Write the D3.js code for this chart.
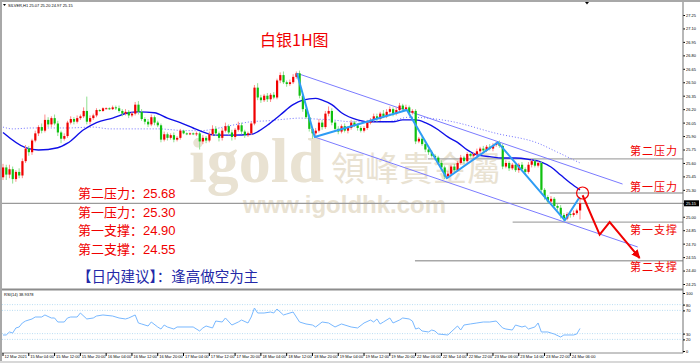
<!DOCTYPE html>
<html>
<head>
<meta charset="utf-8">
<script src="https://cdn.jsdelivr.net/npm/d3@7"></script>
<style>
  body { margin: 0; background: #fff; }
  svg { display: block; }
  .tiny { font-family: "Liberation Sans", Arial, sans-serif; font-size: 4px; fill: #000; }
</style>
</head>
<body>
<svg></svg>
<script>
// SILVER H1 candles, 12 Mar 2021 .. 24 Mar 2021 09:00 (open of bar 0, then closes)
const firstOpen = 25.44
const closes = [
  25.55, 25.47, 25.53, 25.42, 25.50, 25.46, 25.62, 25.76, 25.72, 25.85,
  25.93, 26.00, 25.96, 26.08, 26.03, 26.10, 26.04, 25.94, 25.87, 25.90,
  26.05, 26.09, 26.06, 26.10, 26.12, 26.18, 26.06, 26.10, 26.13, 26.19,
  26.18, 26.21, 26.21, 26.20, 26.22, 26.21, 26.18, 26.15, 26.17, 26.13,
  26.15, 26.25, 26.17, 26.09, 26.06, 26.03, 26.11, 26.05, 26.02, 25.86,
  25.92, 25.88, 25.91, 25.86, 25.88, 25.96, 25.93, 25.92, 25.93, 25.92,
  25.93, 25.84, 25.88, 25.85, 25.92, 25.98, 25.93, 25.88, 25.96, 26.01,
  25.94, 25.89, 25.97, 26.02, 25.95, 25.91, 25.93, 26.04, 26.44, 26.33,
  26.30, 26.35, 26.31, 26.36, 26.33, 26.52, 26.58, 26.50, 26.48, 26.50,
  26.56, 26.60, 26.35, 26.20, 26.11, 25.98, 25.93, 25.96, 26.05, 26.00,
  26.15, 26.18, 26.05, 25.98, 25.95, 26.01, 25.96, 25.99, 26.05, 26.02,
  25.99, 25.96, 25.99, 26.05, 26.08, 26.12, 26.09, 26.15, 26.12, 26.17,
  26.20, 26.15, 26.19, 26.24, 26.20, 26.22, 26.16, 26.18, 25.84, 25.87,
  25.81, 25.75, 25.72, 25.68, 25.66, 25.60, 25.55, 25.45, 25.48, 25.56,
  25.52, 25.60, 25.66, 25.62, 25.70, 25.68, 25.70, 25.73, 25.76, 25.74,
  25.78, 25.76, 25.80, 25.82, 25.79, 25.56, 25.60, 25.54, 25.58, 25.52,
  25.58, 25.53, 25.50, 25.58, 25.62, 25.57, 25.60, 25.30, 25.22, 25.17,
  25.20, 25.12, 25.10, 25.02, 24.98, 25.03, 25.02, 25.04, 25.07, 25.15
]
// wick lengths above / below the body, in cents
const upWick = [
  4,3,5,3,2,4,3,4,3,2, 3,2,4,6,3,2,4,3,2,3, 2,3,2,3,2,4,16,3,2,2, 1,1,1,1,2,2,3,2,3,2,
  2,3,4,3,2,3,3,2,2,2, 3,2,2,3,2,2,1,1,1,1, 2,2,3,2,3,4,3,2,3,4, 2,3,2,4,3,2,2,2,3,5,
  3,2,3,2,3,2,3,4,2,3, 3,2,3,2,2,3,2,3,4,3, 3,5,3,2,3,2,3,2,3,2, 2,2,2,3,2,3,3,2,4,3,
  3,2,3,3,2,3,2,2,2,2, 2,3,2,2,2,2,3,2,3,2, 3,2,3,2,2,2,2,3,2,3, 2,3,2,2,3,2,3,2,2,3,
  2,3,2,3,2,3,2,2,2,2, 3,2,2,3,2,2,2,3,2,5
]
const downWick = [
  3,6,4,5,3,3,3,2,4,3, 2,3,3,2,3,3,2,4,5,2, 2,2,3,2,2,2,3,3,2,2, 1,1,1,1,1,2,2,3,2,3,
  2,2,3,2,3,3,2,3,2,3, 2,3,2,3,2,2,1,1,1,1, 2,9,3,3,2,2,3,4,3,2, 3,4,3,2,3,3,2,2,2,3,
  3,2,3,3,2,2,3,2,3,2, 2,2,3,3,2,3,6,5,2,3, 2,3,3,2,3,2,2,3,2,2, 3,2,2,2,2,2,3,2,2,2,
  2,3,2,2,3,2,3,2,3,2, 2,3,3,2,3,2,3,3,2,2, 3,2,2,3,2,2,2,2,3,2, 2,2,3,2,2,3,2,3,2,2,
  3,2,3,2,3,2,2,3,3,2, 2,2,3,4,3,2,3,2,2,10
]

const timeLabels = [
  "12 Mar 2021", "15 Mar 04:00", "15 Mar 12:00", "15 Mar 20:00", "16 Mar 04:00", "16 Mar 12:00",
  "16 Mar 20:00", "17 Mar 04:00", "17 Mar 12:00", "17 Mar 20:00", "18 Mar 04:00", "18 Mar 12:00",
  "18 Mar 20:00", "19 Mar 04:00", "19 Mar 12:00", "19 Mar 20:00", "22 Mar 06:00", "22 Mar 14:00",
  "22 Mar 22:00", "23 Mar 06:00", "23 Mar 14:00", "23 Mar 22:00", "24 Mar 06:00"
]
const priceTicks = [27.25, 27.10, 26.95, 26.80, 26.65, 26.50, 26.35, 26.20, 26.05, 25.90, 25.75,
  25.60, 25.45, 25.30, 25.15, 25.00, 24.85, 24.70, 24.55, 24.40, 24.25]
const rsiTicks = [100, 80, 70, 30, 20, 0]
const rsiLevels = [80, 70, 30, 20]
const lastPrice = 25.15

// moving averages (bar index, price)
const maBars = [0,7,11,17,20,25,29,34,39,42,47,51,55,59,61,66,71,77,82,86,90,93,97,99,102,105,110,113,117,121,
  124,128,131,135,138,141,144,147,151,155,159,163,167,170,173,176,179]
const maValues = [25.94,25.77,25.745,25.77,25.82,25.97,26.05,26.10,26.16,26.17,26.16,26.10,26.05,25.99,25.96,
  25.91,25.91,25.92,26.02,26.135,26.25,26.30,26.32,26.30,26.25,26.16,26.08,26.06,26.06,26.06,26.08,26.08,
  26.05,25.97,25.89,25.83,25.745,25.69,25.67,25.655,25.655,25.64,25.61,25.555,25.466,25.377,25.30]
const slowBars = [0,3,9,20,28,33,48,57,61,71,77,82,88,92,97,102,108,119,126,138,153,166,172,179]
const slowValues = [26.00,25.98,25.99,25.99,26.00,25.98,25.98,25.96,25.96,26.02,26.06,26.07,26.09,26.10,
  26.09,26.08,26.06,26.06,26.11,26.07,25.93,25.82,25.72,25.60]

// RSI(14)
const rsiBars = [0,1,2,3,4,5,6,7,9,10,12,13,15,16,17,19,20,21,23,24,26,28,29,31,34,36,38,39,41,42,43,45,46,48,
  49,50,51,53,54,59,61,62,63,65,66,68,69,71,73,74,76,77,78,79,81,83,84,85,87,88,90,92,94,96,97,99,101,103,105,
  108,110,112,114,115,116,117,118,120,121,123,124,126,127,128,129,130,132,133,134,135,138,139,141,142,143,145,
  147,149,151,153,155,156,158,159,161,162,163,165,166,167,169,171,173,174,177,178,179]
const rsiValues = [27.6,27.6,32.8,31,39.7,41.4,48.3,51.7,55.2,58.6,58.6,62.1,56.9,56.9,50,50,56.9,58.6,58.6,65.5,
  55.2,56.9,60.3,62.1,60.3,56.9,55.2,56.9,62.1,48.3,46.6,43.1,50,41.4,37.9,44.8,41.4,37.9,41.4,41.4,34.5,39.7,
  43.1,39.7,51.7,50,56.9,44.8,50,53.4,48.3,58.6,74.1,65.5,65.5,67.2,65.5,72.4,62.1,63.8,67.2,50,46.6,44.8,41.4,
  50,48.3,41.4,46.6,41.4,39.7,48.3,53.4,50,55.2,46.6,50,56.9,48.3,53.4,56.9,55.2,51.7,37.9,39.7,34.5,32.8,36.2,
  34.5,29.3,27.6,32.8,43.1,36.2,44.8,46.6,48.3,50,50,51.7,39.7,37.9,36.2,44.8,41.4,43.1,37.9,41.4,48.3,32.8,
  32.8,29.3,24.1,27.6,27.6,29.3,38.9]

// analyst drawings (bar index, price)
const zigzagBars = [91.2, 96.7, 125.3, 137.7, 153.5, 174.3, 178.9]
const zigzagPrices = [26.60, 25.89, 26.19, 25.43, 25.83, 24.96, 25.22]
const channelBars = [[91.2, 192.2], [96.7, 196.9]]
const channelPrices = [[26.60, 25.365], [25.889, 24.663]]
const forecastBars = [179.8, 185.1, 188.2, 197.5]
const forecastPrices = [25.24, 24.80, 24.94, 24.54]
const circleBar = 179.8
const circlePrice = 25.265

const levelNames = ["第二压力", "第一压力", "第一支撑", "第二支撑"]
const levelValues = ["25.68", "25.30", "24.90", "24.55"]
const levelLinePrices = [25.645, 25.265, 24.94, 24.51]
const levelLineStart = [131.8, 169.6, 158.1, 127.8]

const svg = d3.select("svg").attr("width", 700).attr("height", 363)

const x = d3.scaleLinear().domain([0, 179]).range([3, 580])
const y = d3.scaleLinear().domain([24.25, 27.25]).range([284, 15])
const yr = d3.scaleLinear().domain([0, 100]).range([351, 293])

svg.append("rect").attr("width", 700).attr("height", 363).attr("fill", "#fff")

// frame
svg.append("rect").attr("x", 0).attr("y", 0).attr("width", 700).attr("height", 2).attr("fill", "#a8a8a8")
svg.append("rect").attr("x", 0).attr("y", 0).attr("width", 2).attr("height", 363).attr("fill", "#a8a8a8")
svg.append("rect").attr("x", 0).attr("y", 361).attr("width", 700).attr("height", 2).attr("fill", "#d8d8d8")

// watermark
const wm = svg.append("g").attr("fill", "#e9e2d2")
wm.append("text").attr("x", 189).attr("y", 182)
  .style("font-family", "'Liberation Serif', serif").style("font-weight", "bold")
  .style("font-size", "64px").text("igold")
wm.append("text").attr("x", 331).attr("y", 181)
  .style("font-family", "'Noto Sans CJK TC', sans-serif").style("font-size", "34px")
  .text("領峰貴金屬")
wm.append("text").attr("x", 243).attr("y", 213)
  .style("font-family", "'Liberation Sans', sans-serif").style("font-weight", "bold")
  .style("font-size", "24px").text("www.igoldhk.com")

// price panel
svg.append("clipPath").attr("id", "pc").append("rect")
  .attr("x", 2).attr("y", 3).attr("width", 681).attr("height", 285)
const pp = svg.append("g").attr("clip-path", "url(#pc)")

// horizontal levels
pp.append("line").attr("x1", 2).attr("x2", 683).attr("y1", y(lastPrice)).attr("y2", y(lastPrice))
  .attr("stroke", "#9a9a9a").attr("stroke-width", 1.2)
pp.selectAll("line.level").data(levelLinePrices).enter().append("line")
  .attr("class", "level")
  .attr("x1", (d, i) => x(levelLineStart[i])).attr("x2", 683)
  .attr("y1", d => y(d)).attr("y2", d => y(d))
  .attr("stroke", "#a8a8a8").attr("stroke-width", 1.4)

// moving averages
const slowLine = d3.line().x((d, i) => x(slowBars[i])).y(d => y(d)).curve(d3.curveMonotoneX)
pp.append("path").attr("d", slowLine(slowValues)).attr("fill", "none")
  .attr("stroke", "#7070ff").attr("stroke-width", 1).attr("stroke-dasharray", "1,2")
const maLine = d3.line().x((d, i) => x(maBars[i])).y(d => y(d)).curve(d3.curveMonotoneX)
pp.append("path").attr("d", maLine(maValues)).attr("fill", "none")
  .attr("stroke", "#1010e8").attr("stroke-width", 1.4)

// channel
pp.selectAll("line.chan").data(channelBars).enter().append("line")
  .attr("class", "chan")
  .attr("x1", d => x(d[0])).attr("x2", d => x(d[1]))
  .attr("y1", (d, i) => y(channelPrices[i][0])).attr("y2", (d, i) => y(channelPrices[i][1]))
  .attr("stroke", "#7b7bff").attr("stroke-width", 1)

// candles
const bars = closes.map((c, i) => {
  const o = i ? closes[i - 1] : firstOpen
  return { i, o, c, h: Math.max(o, c) + upWick[i] / 100, l: Math.min(o, c) - downWick[i] / 100 }
})
const candles = pp.selectAll("g.candle").data(bars).enter().append("g").attr("class", "candle")
candles.append("line")
  .attr("x1", d => x(d.i)).attr("x2", d => x(d.i))
  .attr("y1", d => y(d.h)).attr("y2", d => y(d.l))
  .attr("stroke", d => d.c >= d.o ? "#ff8a8a" : "#8fe08f").attr("stroke-width", 1)
candles.append("rect")
  .attr("x", d => x(d.i) - 1).attr("width", 2.2)
  .attr("y", d => y(Math.max(d.o, d.c)))
  .attr("height", d => Math.max(1, Math.abs(y(d.o) - y(d.c))))
  .attr("fill", d => d.c >= d.o ? "#f00000" : "#10c010")

// zigzag
const zz = d3.line().x((d, i) => x(zigzagBars[i])).y(d => y(d))
pp.append("path").attr("d", zz(zigzagPrices)).attr("fill", "none")
  .attr("stroke", "#2d9cf5").attr("stroke-width", 2).attr("stroke-linejoin", "round")

// forecast arrow
svg.append("defs").append("marker").attr("id", "ah")
  .attr("markerUnits", "userSpaceOnUse").attr("markerWidth", 10).attr("markerHeight", 10)
  .attr("refX", 8).attr("refY", 4).attr("orient", "auto")
  .append("path").attr("d", "M0,0 L9,4 L0,8 Z").attr("fill", "#f00000")
const fc = d3.line().x((d, i) => x(forecastBars[i])).y(d => y(d))
pp.append("path").attr("d", fc(forecastPrices)).attr("fill", "none")
  .attr("stroke", "#f00000").attr("stroke-width", 2).attr("marker-end", "url(#ah)")
pp.append("circle").attr("cx", x(circleBar)).attr("cy", y(circlePrice)).attr("r", 6)
  .attr("fill", "none").attr("stroke", "#f00000").attr("stroke-width", 1.2)

// texts on the chart
svg.append("text").attr("x", 260).attr("y", 46).attr("fill", "#f00000")
  .style("font-family", "'Noto Sans CJK SC', sans-serif").style("font-size", "16px")
  .text("白银1H图")

const leftBlock = svg.append("g").attr("fill", "#f00000")
  .style("font-family", "'Liberation Sans', 'Noto Sans CJK SC', sans-serif").style("font-size", "13px")
leftBlock.selectAll("text").data(levelNames).enter().append("text")
  .attr("x", 78).attr("y", (d, i) => 198 + i * 18.7)
  .text((d, i) => d + "：" + levelValues[i])

svg.append("text").attr("x", 77).attr("y", 282).attr("fill", "#2328a8")
  .style("font-family", "'Noto Sans CJK SC', sans-serif").style("font-size", "14.5px")
  .text("【日内建议】：逢高做空为主")

const rightLabelY = [155, 191, 234, 271]
svg.append("g").attr("fill", "#f00000")
  .style("font-family", "'Noto Sans CJK SC', sans-serif").style("font-size", "11px")
  .selectAll("text").data(levelNames).enter().append("text")
  .attr("x", 630).attr("y", (d, i) => rightLabelY[i]).attr("letter-spacing", 1)
  .text(d => d)

// header
svg.append("path").attr("d", "M3,4 L6,4 L4.5,6 Z").attr("fill", "#000")
svg.append("text").attr("class", "tiny").attr("x", 8).attr("y", 6.5)
  .text("SILVER,H1  25.07 25.20 24.97 25.15")
svg.append("path").attr("d", "M585,2 L589,2 L587,4.5 Z").attr("fill", "#000")

// right price axis
const pAxis = d3.axisRight(y).tickValues(priceTicks).tickSize(2).tickFormat(d3.format(".2f"))
const pa = svg.append("g").attr("transform", "translate(683,0)").call(pAxis)
pa.select(".domain").remove()
pa.selectAll("text").attr("class", "tiny").attr("x", 3).attr("dy", "0.35em").style("font-size", "4px")
pa.selectAll("line").attr("stroke", "#000")

svg.append("rect").attr("x", 684).attr("y", y(lastPrice) - 3).attr("width", 15).attr("height", 6).attr("fill", "#000")
svg.append("text").attr("x", 686).attr("y", y(lastPrice) + 1.5).attr("fill", "#fff")
  .style("font-family", "'Liberation Sans', sans-serif").style("font-size", "4px").text(lastPrice.toFixed(2))

// panel separator and axis lines
svg.append("rect").attr("x", 2).attr("y", 288.5).attr("width", 681).attr("height", 2).attr("fill", "#8c8c8c")
svg.append("line").attr("x1", 683).attr("x2", 683).attr("y1", 2).attr("y2", 353).attr("stroke", "#707070")
svg.append("line").attr("x1", 2).attr("x2", 683).attr("y1", 353).attr("y2", 353).attr("stroke", "#8c8c8c")

// RSI panel
svg.selectAll("line.rl").data(rsiLevels).enter().append("line").attr("class", "rl")
  .attr("x1", 2).attr("x2", 683).attr("y1", d => yr(d)).attr("y2", d => yr(d))
  .attr("stroke", "#a8d4f0").attr("stroke-width", 0.8).attr("stroke-dasharray", "1,1.5")
const rsiLine = d3.line().x((d, i) => x(rsiBars[i])).y(d => yr(d))
svg.append("path").attr("d", rsiLine(rsiValues)).attr("fill", "none")
  .attr("stroke", "#78b8ff").attr("stroke-width", 1)
svg.append("text").attr("class", "tiny").attr("x", 4).attr("y", 296).text("RSI(14) 38.9378")

const rAxis = d3.axisRight(yr).tickValues(rsiTicks).tickSize(2).tickFormat(d3.format("d"))
const ra = svg.append("g").attr("transform", "translate(683,0)").call(rAxis)
ra.select(".domain").remove()
ra.selectAll("text").attr("class", "tiny").attr("x", 3).attr("dy", "0.35em").style("font-size", "4px")
ra.selectAll("line").attr("stroke", "#000")

// time axis
const tAxis = d3.axisBottom(x).tickValues(timeLabels.map((d, i) => i * 8)).tickSize(3)
  .tickFormat((d, i) => timeLabels[i])
const ta = svg.append("g").attr("transform", "translate(-0.5,353)").call(tAxis)
ta.select(".domain").remove()
ta.selectAll("line").attr("stroke", "#000")
ta.selectAll("text").attr("class", "tiny").attr("text-anchor", "start").attr("x", 1.5).attr("y", 2)
  .attr("dy", "0.71em").style("font-size", "4px")
</script>
</body>
</html>
